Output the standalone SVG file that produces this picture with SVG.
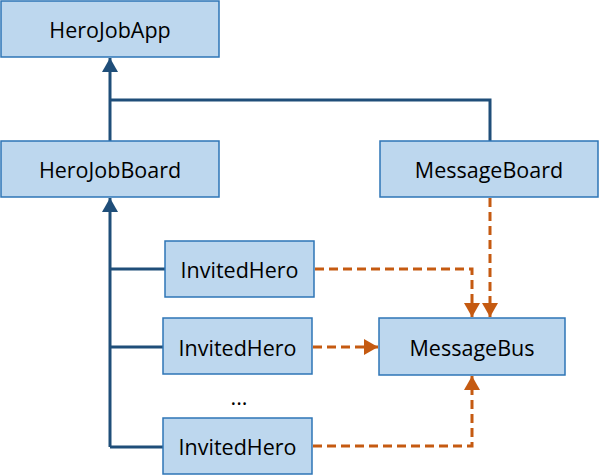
<svg xmlns="http://www.w3.org/2000/svg" width="599" height="476" viewBox="0 0 599 476">
<style>
.box{fill:#BDD7EE;stroke:#2E75B6;stroke-width:1.5}
.lbl{font-family:"Open Sans","Liberation Sans",sans-serif;font-size:21.5px;fill:#000;text-anchor:middle;dominant-baseline:central}
.tree{fill:none;stroke:#1F4E79;stroke-width:3}
.dep{fill:none;stroke:#C55A11;stroke-width:3;stroke-dasharray:9,5}
</style>
<defs>
<marker id="ab" markerUnits="userSpaceOnUse" markerWidth="16" markerHeight="16" refX="14" refY="8" orient="auto">
<path d="M0,0 L14,8 L0,16 Z" fill="#1F4E79"/>
</marker>
<marker id="ao" markerUnits="userSpaceOnUse" markerWidth="16" markerHeight="16" refX="14" refY="8" orient="auto">
<path d="M0,0 L14,8 L0,16 Z" fill="#C55A11"/>
</marker>
</defs>
<g id="connectors">
<path class="tree" d="M110,141 L110,58" marker-end="url(#ab)"/>
<path class="tree" d="M110,100 L490,100 L490,141"/>
<path class="tree" d="M110,447 L110,198" marker-end="url(#ab)"/>
<path class="tree" d="M110,269 L165,269"/>
<path class="tree" d="M110,347 L163,347"/>
<path class="tree" d="M110,447 L163,447"/>
<path class="dep" d="M315,269 L472,269 L472,317" marker-end="url(#ao)"/>
<path class="dep" d="M490,198 L490,317" marker-end="url(#ao)"/>
<path class="dep" d="M313,347 L378,347" marker-end="url(#ao)"/>
<path class="dep" d="M313,446 L472,446 L472,376" marker-end="url(#ao)"/>
</g>
<g id="HeroJobApp"><rect class="box" x="1" y="1" width="218" height="56"/><text class="lbl" x="110" y="29">HeroJobApp</text></g>
<g id="HeroJobBoard"><rect class="box" x="1" y="141" width="218" height="56"/><text class="lbl" x="110" y="169">HeroJobBoard</text></g>
<g id="MessageBoard"><rect class="box" x="380" y="141" width="218" height="56"/><text class="lbl" x="489" y="169">MessageBoard</text></g>
<g id="InvitedHero1"><rect class="box" x="165" y="241" width="149" height="56"/><text class="lbl" x="239.5" y="269">InvitedHero</text></g>
<g id="InvitedHero2"><rect class="box" x="163" y="318" width="149" height="56"/><text class="lbl" x="237.5" y="347">InvitedHero</text></g>
<g id="InvitedHero3"><rect class="box" x="163" y="418" width="149" height="56"/><text class="lbl" x="237.5" y="446">InvitedHero</text></g>
<g id="MessageBus"><rect class="box" x="379" y="318" width="186" height="57"/><text class="lbl" x="472" y="347">MessageBus</text></g>
<text class="lbl" x="239" y="396">...</text>
</svg>
